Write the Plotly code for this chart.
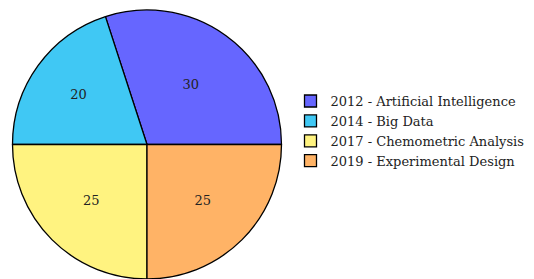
import plotly.graph_objects as go

labels = ["2012 - Artificial Intelligence", "2014 - Big Data",
          "2017 - Chemometric Analysis", "2019 - Experimental Design"]
values = [30, 20, 25, 25]
colors = ["#6666FF", "#40C8F4", "#FFF380", "#FFB366"]

W, H = 560, 271   # page body has an 8px margin; right part overflows the window
R = 274           # right margin, leaves a 286px plot area for the pie
GW = W - R

fig = go.Figure(go.Pie(
    labels=labels,
    values=values,
    sort=False,
    direction="counterclockwise",
    rotation=-18,
    marker=dict(colors=colors, line=dict(color="black", width=1.3)),
    textinfo="value",
    textposition="inside",
    insidetextorientation="horizontal",
    textfont=dict(family="DejaVu Serif", size=13, color="#222222"),
    domain=dict(x=[4.5/GW, 273.5/GW], y=[0, 1 - 2/H]),
    hoverinfo="label+value",
))

fig.update_layout(
    width=W, height=H,
    margin=dict(l=0, r=R, t=0, b=0),
    paper_bgcolor="white",
    plot_bgcolor="white",
    font=dict(family="DejaVu Serif", size=13, color="#222222"),
    legend=dict(x=282.5/GW, y=0.546, xanchor="left", yanchor="middle",
                font=dict(family="DejaVu Serif", size=13, color="#222222"),
                itemwidth=30, tracegroupgap=0),
)

fig.write_html("out.html")
